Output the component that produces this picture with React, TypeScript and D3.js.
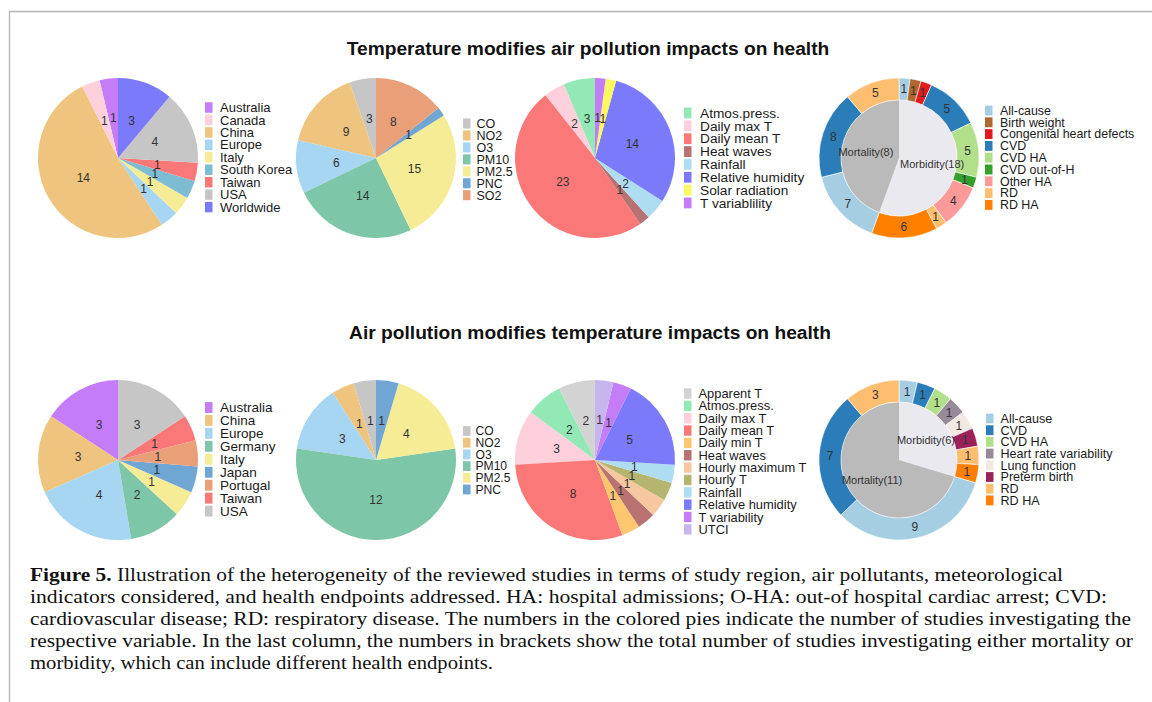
import React from 'react';
import * as d3 from 'd3';

// ---------- Data: row 1 (Temperature modifies air pollution impacts) ----------
const regionCats1 = ['Australia', 'Canada', 'China', 'Europe', 'Italy', 'South Korea', 'Taiwan', 'USA', 'Worldwide'];
const regionVals1 = [1, 1, 14, 1, 1, 1, 1, 4, 3];
const pollCats1 = ['CO', 'NO2', 'O3', 'PM10', 'PM2.5', 'PNC', 'SO2'];
const pollVals1 = [3, 9, 6, 14, 15, 1, 8];
const metCats1 = ['Atmos.press.', 'Daily max T', 'Daily mean T', 'Heat waves', 'Rainfall', 'Relative humidity', 'Solar radiation', 'T variablility'];
const metVals1 = [3, 2, 23, 1, 2, 14, 1, 1];
const healthLegend1 = ['All-cause', 'Birth weight', 'Congenital heart defects', 'CVD', 'CVD HA', 'CVD out-of-H', 'Other HA', 'RD', 'RD HA'];
const morbCats1 = ['All-cause', 'Birth weight', 'Congenital heart defects', 'CVD', 'CVD HA', 'CVD out-of-H', 'Other HA', 'RD', 'RD HA'];
const morbVals1 = [1, 1, 1, 5, 5, 1, 4, 1, 6];
const mortCats1 = ['All-cause', 'CVD', 'RD'];
const mortVals1 = [7, 8, 5];
const studyCounts1 = [18, 8]; // morbidity, mortality

// ---------- Data: row 2 (Air pollution modifies temperature impacts) ----------
const regionCats2 = ['Australia', 'China', 'Europe', 'Germany', 'Italy', 'Japan', 'Portugal', 'Taiwan', 'USA'];
const regionVals2 = [3, 3, 4, 2, 1, 1, 1, 1, 3];
const pollCats2 = ['CO', 'NO2', 'O3', 'PM10', 'PM2.5', 'PNC'];
const pollVals2 = [1, 1, 3, 12, 4, 1];
const metCats2 = ['Apparent T', 'Atmos.press.', 'Daily max T', 'Daily mean T', 'Daily min T', 'Heat waves', 'Hourly maximum T', 'Hourly T', 'Rainfall', 'Relative humidity', 'T variability', 'UTCI'];
const metVals2 = [2, 2, 3, 8, 1, 1, 1, 1, 1, 5, 1, 1];
const healthLegend2 = ['All-cause', 'CVD', 'CVD HA', 'Heart rate variability', 'Lung function', 'Preterm birth', 'RD', 'RD HA'];
const morbCats2 = ['All-cause', 'CVD', 'CVD HA', 'Heart rate variability', 'Lung function', 'Preterm birth', 'RD', 'RD HA'];
const morbVals2 = [1, 1, 1, 1, 1, 1, 1, 1];
const mortCats2 = ['All-cause', 'CVD', 'RD'];
const mortVals2 = [9, 7, 3];
const studyCounts2 = [6, 11];

const titles = ['Temperature modifies air pollution impacts on health', 'Air pollution modifies temperature impacts on health'];

const captionLines = [
  'Illustration of the heterogeneity of the reviewed studies in terms of study region, air pollutants, meteorological',
  'indicators considered, and health endpoints addressed. HA: hospital admissions; O-HA: out-of hospital cardiac arrest; CVD:',
  'cardiovascular disease; RD: respiratory disease. The numbers in the colored pies indicate the number of studies investigating the',
  'respective variable. In the last column, the numbers in brackets show the total number of studies investigating either mortality or',
  'morbidity, which can include different health endpoints.',
];

// ---------- Colours ----------
const placeColors: Record<string, string> = {
  Australia: '#c57cf9', Canada: '#fdd0dc', China: '#efc47e', Europe: '#a6d6f2', Italy: '#f6ec95',
  'South Korea': '#7dbdd4', Taiwan: '#fb7878', USA: '#c6c6c6', Worldwide: '#7a7afa', Germany: '#7dc6a8',
  Japan: '#6fa6d3', Portugal: '#e9a079',
  CO: '#c6c6c6', NO2: '#efc47e', O3: '#a6d6f2', PM10: '#7dc6a8', 'PM2.5': '#f6ec95', PNC: '#6fa6d3', SO2: '#e9a079',
};
const metColors: Record<string, string> = {
  'Apparent T': '#d3d3d3', 'Atmos.press.': '#92e9b6', 'Daily max T': '#fdd0dc', 'Daily mean T': '#fb7878',
  'Daily min T': '#fcc66f', 'Heat waves': '#b87272', 'Hourly maximum T': '#f7c7a0', 'Hourly T': '#b5b56f',
  Rainfall: '#aedcf1', 'Relative humidity': '#7a7afa', 'Solar radiation': '#fbf861', 'T variablility': '#c57cf9',
  'T variability': '#c57cf9', UTCI: '#c7b5ee',
};
const healthColors: Record<string, string> = {
  'All-cause': '#a6cee3', 'Birth weight': '#b0672d', 'Congenital heart defects': '#e31a1c', CVD: '#2a7db8',
  'CVD HA': '#b2df8a', 'CVD out-of-H': '#33a02c', 'Other HA': '#fb9a99', RD: '#fdbf6f', 'RD HA': '#ff7f00',
  'Heart rate variability': '#978b99', 'Lung function': '#f1e9e2', 'Preterm birth': '#9c2159',
};
const innerColors = { Morbidity: '#ebe9f0', Mortality: '#bababa' };

const SANS = '"Liberation Sans", Arial, Helvetica, sans-serif';
const SERIF = '"Liberation Serif", "Times New Roman", serif';
const LABEL_FS = 12;

type LegendCfg = { sx: number; tx: number; y0: number; dy: number; fs: number };

function Legend({ cats, colors, cfg }: { cats: string[]; colors: Record<string, string>; cfg: LegendCfg }) {
  return (
    <g>
      {cats.map((c, i) => {
        const y = cfg.y0 + i * cfg.dy;
        return (
          <g key={c}>
            <rect x={cfg.sx} y={y - cfg.dy * 0.42} width={7.5} height={cfg.dy * 0.84} fill={colors[c]} />
            <text x={cfg.tx} y={y} dy="0.35em" fontSize={cfg.fs} fontFamily={SANS} fill="#1a1a1a">{c}</text>
          </g>
        );
      })}
    </g>
  );
}

function Pie({ cx, cy, r, cats, vals, colors, legend }: {
  cx: number; cy: number; r: number; cats: string[]; vals: number[]; colors: Record<string, string>; legend: LegendCfg;
}) {
  const data = cats.map((c, i) => ({ c, v: vals[i] }));
  const arcs = d3.pie<{ c: string; v: number }>().sort(null).value((d) => d.v).startAngle(0).endAngle(-2 * Math.PI)(data);
  const arc = d3.arc<d3.PieArcDatum<{ c: string; v: number }>>().innerRadius(0).outerRadius(r);
  const labelArc = d3.arc<d3.PieArcDatum<{ c: string; v: number }>>().innerRadius(r * 0.5).outerRadius(r * 0.5);
  return (
    <g>
      <g transform={`translate(${cx},${cy})`}>
        {arcs.map((a) => (
          <path key={a.data.c} d={arc(a) || ''} fill={colors[a.data.c]} />
        ))}
        {arcs.map((a) => {
          const [x, y] = labelArc.centroid(a);
          return (
            <text key={'l' + a.data.c} x={x} y={y} dy="0.35em" textAnchor="middle" fontSize={LABEL_FS} fontFamily={SANS} fill="#333">
              {a.data.v}
            </text>
          );
        })}
      </g>
      <Legend cats={cats} colors={colors} cfg={legend} />
    </g>
  );
}

function Donut({ cx, cy, r, r0, morbCats, morbVals, mortCats, mortVals, counts, legendCats, legend }: {
  cx: number; cy: number; r: number; r0: number; morbCats: string[]; morbVals: number[]; mortCats: string[];
  mortVals: number[]; counts: number[]; legendCats: string[]; legend: LegendCfg;
}) {
  type D = { key: string; c: string; v: number };
  const outer: D[] = [
    ...morbCats.map((c, i) => ({ key: 'mb' + c, c, v: morbVals[i] })),
    ...mortCats.map((c, i) => ({ key: 'mt' + c, c, v: mortVals[i] })),
  ];
  const inner: D[] = [
    { key: 'Morbidity', c: `Morbidity(${counts[0]})`, v: d3.sum(morbVals) },
    { key: 'Mortality', c: `Mortality(${counts[1]})`, v: d3.sum(mortVals) },
  ];
  const pie = d3.pie<D>().sort(null).value((d) => d.v).startAngle(0).endAngle(2 * Math.PI);
  const outerArcs = pie(outer);
  const innerArcs = pie(inner);
  const ringArc = d3.arc<d3.PieArcDatum<D>>().innerRadius(r0).outerRadius(r);
  const ringLabel = d3.arc<d3.PieArcDatum<D>>().innerRadius((r0 + r) / 2).outerRadius((r0 + r) / 2);
  const innerArc = d3.arc<d3.PieArcDatum<D>>().innerRadius(0).outerRadius(r0);
  const innerLabel = d3.arc<d3.PieArcDatum<D>>().innerRadius(r0 * 0.58).outerRadius(r0 * 0.58);
  return (
    <g>
      <g transform={`translate(${cx},${cy})`}>
        {innerArcs.map((a) => (
          <path key={a.data.key} d={innerArc(a) || ''} fill={(innerColors as any)[a.data.key]} />
        ))}
        {outerArcs.map((a) => (
          <path key={a.data.key} d={ringArc(a) || ''} fill={healthColors[a.data.c]} stroke="#fff" strokeWidth={0.6} />
        ))}
        {outerArcs.map((a) => {
          const [x, y] = ringLabel.centroid(a);
          return (
            <text key={'l' + a.data.key} x={x} y={y} dy="0.35em" textAnchor="middle" fontSize={LABEL_FS} fontFamily={SANS} fill="#333">
              {a.data.v}
            </text>
          );
        })}
        {innerArcs.map((a) => {
          const [x, y] = innerLabel.centroid(a);
          return (
            <text key={'i' + a.data.key} x={x} y={y} dy="0.35em" textAnchor="middle" fontSize={11} fontFamily={SANS} fill="#333">
              {a.data.c}
            </text>
          );
        })}
      </g>
      <Legend cats={legendCats} colors={healthColors} cfg={legend} />
    </g>
  );
}

export default function App() {
  const W = 1152;
  const H = 702;
  const colX = [118, 376, 595, 899];
  const rowY = [158, 460];
  const R = 80;
  const R0 = 58;
  return (
    <svg width={W} height={H} style={{ position: 'absolute', left: 0, top: 0, background: '#fff' }}>
      <rect x={0} y={0} width={W} height={H} fill="#fff" />
      <path d={`M9.5,${H} L9.5,11.5 L${W},11.5`} fill="none" stroke="#b3b3b3" strokeWidth={1.3} />

      <text x={588} y={48} dy="0.35em" textAnchor="middle" fontSize={19.2} fontWeight="bold" fontFamily={SANS} fill="#111">{titles[0]}</text>
      <text x={590} y={332} dy="0.35em" textAnchor="middle" fontSize={19.2} fontWeight="bold" fontFamily={SANS} fill="#111">{titles[1]}</text>

      {/* Row 1 */}
      <Pie cx={colX[0]} cy={rowY[0]} r={R} cats={regionCats1} vals={regionVals1} colors={placeColors}
        legend={{ sx: 205, tx: 220, y0: 107.5, dy: 12.45, fs: 13 }} />
      <Pie cx={colX[1]} cy={rowY[0]} r={R} cats={pollCats1} vals={pollVals1} colors={placeColors}
        legend={{ sx: 463, tx: 476.5, y0: 123.5, dy: 11.95, fs: 12.5 }} />
      <Pie cx={colX[2]} cy={rowY[0]} r={R} cats={metCats1} vals={metVals1} colors={metColors}
        legend={{ sx: 684, tx: 700, y0: 113, dy: 12.85, fs: 13.7 }} />
      <Donut cx={colX[3]} cy={rowY[0]} r={R} r0={R0} morbCats={morbCats1} morbVals={morbVals1} mortCats={mortCats1}
        mortVals={mortVals1} counts={studyCounts1} legendCats={healthLegend1}
        legend={{ sx: 985, tx: 1000, y0: 110.5, dy: 11.8, fs: 12.4 }} />

      {/* Row 2 */}
      <Pie cx={colX[0]} cy={rowY[1]} r={R} cats={regionCats2} vals={regionVals2} colors={placeColors}
        legend={{ sx: 205, tx: 220, y0: 407.5, dy: 12.95, fs: 13.5 }} />
      <Pie cx={colX[1]} cy={rowY[1]} r={R} cats={pollCats2} vals={pollVals2} colors={placeColors}
        legend={{ sx: 463, tx: 475.5, y0: 431, dy: 11.7, fs: 12.1 }} />
      <Pie cx={colX[2]} cy={rowY[1]} r={R} cats={metCats2} vals={metVals2} colors={metColors}
        legend={{ sx: 684, tx: 698.5, y0: 393.5, dy: 12.35, fs: 12.9 }} />
      <Donut cx={colX[3]} cy={rowY[1]} r={R} r0={R0} morbCats={morbCats2} morbVals={morbVals2} mortCats={mortCats2}
        mortVals={mortVals2} counts={studyCounts2} legendCats={healthLegend2}
        legend={{ sx: 986, tx: 1000.5, y0: 418.5, dy: 11.7, fs: 12.6 }} />

      {/* Caption */}
      <text x={30} y={581} fontSize={18} fontFamily={SERIF} fill="#111" textLength={1033} lengthAdjust="spacingAndGlyphs">
        <tspan fontWeight="bold">Figure 5.</tspan> {captionLines[0]}
      </text>
      <text x={30} y={603} fontSize={18} fontFamily={SERIF} fill="#111" textLength={1077} lengthAdjust="spacingAndGlyphs">{captionLines[1]}</text>
      <text x={30} y={625} fontSize={18} fontFamily={SERIF} fill="#111" textLength={1101} lengthAdjust="spacingAndGlyphs">{captionLines[2]}</text>
      <text x={30} y={647} fontSize={18} fontFamily={SERIF} fill="#111" textLength={1103} lengthAdjust="spacingAndGlyphs">{captionLines[3]}</text>
      <text x={30} y={669} fontSize={18} fontFamily={SERIF} fill="#111" textLength={463} lengthAdjust="spacingAndGlyphs">{captionLines[4]}</text>
    </svg>
  );
}
